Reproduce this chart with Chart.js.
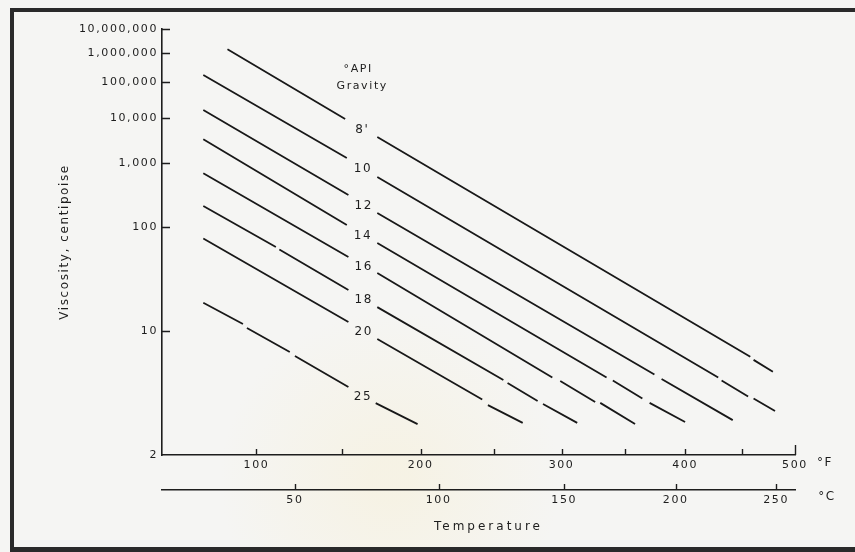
<!DOCTYPE html>
<html>
<head>
<meta charset="utf-8">
<title>Viscosity vs temperature</title>
<script src="https://cdn.jsdelivr.net/npm/chart.js@4.4.1/dist/chart.umd.min.js"></script>
<style>
    html, body { margin: 0; padding: 0; background: #f5f5f3; }
    canvas { display: block; }
</style>
</head>
<body>
<canvas id="chart_viscosity" width="855" height="552"></canvas>
<script>
// °API gravity curves: temperature in °F, viscosity in cP
// null = a break in the printed line (the widest one holds the label)
const gravityLabels = ["8'", '10', '12', '14', '16', '18', '20', '25']

const temp8  = [84, 152, null, 172, 458, null, 461, 479]
const visc8  = [1440000, 9300, null, 3490, 6.7, null, 6.4, 5.4]
const temp10 = [71, 153, null, 172, 429, null, 432, 456, null, 461, 481]
const visc10 = [173000, 1270, null, 566, 5.0, null, 4.8, 3.9, null, 3.8, 3.26]
const temp12 = [71, 154, null, 172, 374, null, 380, 442]
const visc12 = [15900, 286, null, 155, 5.2, null, 4.9, 2.93]
const temp14 = [71, 153, null, 172, 335, null, 340, 364, null, 370, 400]
const visc14 = [3100, 107, null, 64.5, 5.0, null, 4.8, 3.8, null, 3.6, 2.87]
const temp16 = [71, 154, null, 172, 293, null, 299, 326, null, 330, 358]
const visc16 = [657, 45, null, 30.8, 5.0, null, 4.76, 3.64, null, 3.6, 2.8]
const temp18 = [71, 111, null, 113, 154, null, 172, 257, null, 260, 282, null, 286, 312]
const visc18 = [195, 57.9, null, 54.3, 21.4, null, 15.3, 4.83, null, 4.64, 3.68, null, 3.55, 2.84]
const temp20 = [71, 154, null, 172, 242, null, 246, 271]
const visc20 = [73, 11.7, null, 8.8, 3.75, null, 3.5, 2.84]
const temp25 = [71, 92.5, null, 94.7, 119, null, 122, 154, null, 171, 198]
const visc25 = [16.6, 11.3, null, 10.55, 7.19, null, 6.78, 4.4, null, 3.59, 2.8]

// axes
const viscTicks = [2, 10, 100, 1000, 10000, 100000, 1000000, 10000000]
const tempTicksF = [100, 150, 200, 250, 300, 350, 400, 450, 500]
const tempTicksC = [50, 100, 150, 200, 250]
const tempRangeF = [49.5, 500]
const viscRange = [2, 10000000]

// chart paper: log(T abs) across, log log(viscosity) up
const fx = (t) => Math.log10(t + 460)
const fy = (v) => Math.log10(Math.log10(v + 1))
const cToF = (c) => c * 9 / 5 + 32
const withCommas = (n) => String(n).replace(/\B(?=(\d{3})+(?!\d))/g, ',')

const INK = '#1d1d1d'
const FONT = 'DejaVu Sans'

function build_points(temps, viscs) {
    return temps.map((t, i) => t === null ? {x: null, y: null} : {x: fx(t), y: fy(viscs[i])})
}

const series = [
    [temp8, visc8], [temp10, visc10], [temp12, visc12], [temp14, visc14],
    [temp16, visc16], [temp18, visc18], [temp20, visc20], [temp25, visc25]
]

var datasets = series.map((s, i) => ({
    label: gravityLabels[i],
    data: build_points(s[0], s[1]),
    borderColor: '#181818',
    borderWidth: 1.8,
    pointRadius: 0,
    spanGaps: false,
    fill: false,
    tension: 0
}))

const chartDecor = {
    id: 'chartDecor',
    beforeDraw(chart) {
        const ctx = chart.ctx
        ctx.save()
        ctx.fillStyle = '#f5f5f3'
        ctx.fillRect(0, 0, chart.width, chart.height)
        // very faint yellow watermark behind the lower middle of the plot
        const glow = ctx.createRadialGradient(390, 480, 20, 390, 480, 170)
        glow.addColorStop(0, 'rgba(248, 236, 196, 0.30)')
        glow.addColorStop(1, 'rgba(248, 236, 196, 0)')
        ctx.fillStyle = glow
        ctx.fillRect(0, 0, chart.width, chart.height)
        ctx.restore()
        ctx.letterSpacing = '1.6px'
    },
    afterDraw(chart) {
        const ctx = chart.ctx
        const {x, xC, y} = chart.scales
        ctx.save()

        // frame of the scanned page
        ctx.fillStyle = '#2a2a2a'
        ctx.fillRect(10, 8, 4, 544)
        ctx.fillRect(10, 8, chart.width - 10, 4)
        ctx.fillRect(10, 547, chart.width - 10, 5)

        // tick marks point into the plot
        ctx.strokeStyle = INK
        ctx.lineWidth = 1.4
        ctx.beginPath()
        y.ticks.forEach((t, i) => {
            if (i === 0) return
            const py = Math.round(y.getPixelForValue(t.value)) + 0.5
            ctx.moveTo(y.right, py)
            ctx.lineTo(y.right + 8, py)
        })
        x.ticks.forEach((t, i) => {
            const px = Math.round(x.getPixelForValue(t.value)) + 0.5
            const h = i === x.ticks.length - 1 ? 10 : 6
            ctx.moveTo(px, x.top)
            ctx.lineTo(px, x.top - h)
        })
        xC.ticks.forEach((t) => {
            const px = Math.round(xC.getPixelForValue(t.value)) + 0.5
            ctx.moveTo(px, xC.top)
            ctx.lineTo(px, xC.top - 6)
        })
        ctx.stroke()

        // curve labels sit in the widest gap of each line
        ctx.fillStyle = INK
        ctx.textAlign = 'center'
        ctx.textBaseline = 'middle'
        ctx.font = '12px "' + FONT + '"'
        let first = null
        chart.data.datasets.forEach((ds, i) => {
            const pts = chart.getDatasetMeta(i).data
            let best = null
            for (let k = 1; k < pts.length - 1; k++) {
                if (!pts[k].skip) continue
                const a = pts[k - 1], b = pts[k + 1]
                const gap = Math.hypot(b.x - a.x, b.y - a.y)
                if (!best || gap > best.gap) best = {gap: gap, x: (a.x + b.x) / 2, y: (a.y + b.y) / 2}
            }
            if (!best) return
            if (!first) first = best
            ctx.fillText(ds.label, best.x + 1, best.y + 1.5)
        })

        ctx.font = '11px "' + FONT + '"'
        if (first) {
            ctx.fillText('°API', first.x - 3, first.y - 59)
            ctx.fillText('Gravity', first.x + 1, first.y - 42)
        }
        ctx.font = '12px "' + FONT + '"'
        ctx.fillText('°F', x.right + 30, x.top + 8)
        ctx.fillText('°C', xC.right + 32, xC.top + 7)

        ctx.letterSpacing = '3px'
        ctx.fillText('Temperature', (x.left + x.right) / 2 + 10, xC.bottom - 25)
        ctx.restore()
    }
}

const tickFont = {family: FONT, size: 11}

var config = {
    type: 'line',
    data: {datasets: datasets},
    plugins: [chartDecor],
    options: {
        responsive: false,
        animation: false,
        devicePixelRatio: 1,
        layout: {padding: {top: 29, right: 60, bottom: 0, left: 0}},
        plugins: {legend: {display: false}, tooltip: {enabled: false}},
        scales: {
            x: {
                type: 'linear',
                position: 'bottom',
                weight: 0,
                min: fx(tempRangeF[0]),
                max: fx(tempRangeF[1]),
                bounds: 'data',
                grid: {display: false, drawTicks: false},
                border: {color: INK, width: 1.6},
                ticks: {
                    autoSkip: false, maxRotation: 0, padding: 4, color: INK, font: tickFont,
                    callback: (v, i) => tempTicksF[i] % 100 === 0 ? String(tempTicksF[i]) : ''
                },
                afterBuildTicks: (s) => { s.ticks = tempTicksF.map((t) => ({value: fx(t)})) },
                afterFit: (s) => { s.height = 35 }
            },
            xC: {
                type: 'linear',
                position: 'bottom',
                weight: 1,
                min: fx(tempRangeF[0]),
                max: fx(tempRangeF[1]),
                bounds: 'data',
                grid: {display: false, drawTicks: false},
                border: {color: INK, width: 1.6},
                ticks: {
                    autoSkip: false, maxRotation: 0, padding: 4, color: INK, font: tickFont,
                    callback: (v, i) => String(tempTicksC[i])
                },
                afterBuildTicks: (s) => { s.ticks = tempTicksC.map((c) => ({value: fx(cToF(c))})) },
                afterFit: (s) => { s.height = 62 }
            },
            y: {
                type: 'linear',
                min: fy(viscRange[0]),
                max: fy(viscRange[1]),
                bounds: 'data',
                grid: {display: false, drawTicks: false},
                border: {color: INK, width: 1.6},
                ticks: {
                    autoSkip: false, padding: 4, color: INK, font: tickFont,
                    callback: (v, i) => withCommas(viscTicks[i])
                },
                title: {
                    display: true,
                    text: 'Viscosity, centipoise',
                    color: INK,
                    font: {family: FONT, size: 12},
                    padding: {top: 58, bottom: 0}
                },
                afterBuildTicks: (s) => { s.ticks = viscTicks.map((v) => ({value: fy(v)})) },
                afterFit: (s) => { s.width = 162 }
            }
        }
    }
}

var ctx = document.getElementById('chart_viscosity').getContext('2d')
window.viscChart = new Chart(ctx, config)
</script>
</body>
</html>
